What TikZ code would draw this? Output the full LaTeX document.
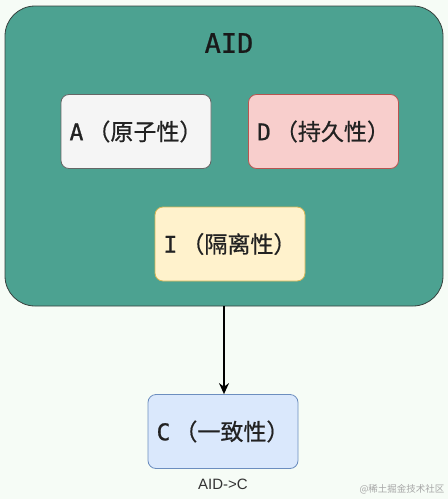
\documentclass[tikz,border=0pt]{standalone}
\usepackage{fontspec}
\usepackage{tikz}
\usetikzlibrary{arrows.meta, positioning}
\newfontfamily\cjkfont[FakeBold=0.7]{Noto Sans CJK SC}
\newfontfamily\plaincjk{Noto Sans CJK SC}
\newfontfamily\monofont[FakeBold=0.9]{DejaVu Sans Mono}
\newfontfamily\capfont{Liberation Sans}
\definecolor{bgmint}{RGB}{246,252,246}
\definecolor{aidteal}{RGB}{76,162,145}
\definecolor{aidline}{RGB}{55,65,62}
\definecolor{inkdark}{RGB}{34,34,34}
\definecolor{hdrgray}{RGB}{245,245,245}
\definecolor{linegray}{RGB}{102,102,102}
\definecolor{hdrred}{RGB}{248,206,204}
\definecolor{linered}{RGB}{184,84,80}
\definecolor{hdramber}{RGB}{255,242,204}
\definecolor{lineamber}{RGB}{214,182,86}
\definecolor{hdrblue}{RGB}{218,232,252}
\definecolor{lineblue}{RGB}{108,142,191}
\newcommand{\proplabel}[2]{{\monofont #1}\kern4pt{\cjkfont （#2）}}
\tikzset{
  container/.style={rectangle, draw=aidline, fill=aidteal,
    minimum width=438pt, minimum height=300pt,
    rounded corners=30pt, line width=0.8pt},
  propbox/.style={rectangle, minimum width=150pt, minimum height=74pt,
    inner sep=0pt, text=inkdark, font=\fontsize{23}{26}\selectfont,
    rounded corners=8pt, line width=0.8pt},
  arrow/.style={-{Stealth[length=11pt, width=10pt]}, line width=1.4pt, color=black}
}
\begin{document}
\begin{tikzpicture}[x=1pt, y=-1pt]
  % Background
  \fill[bgmint] (0,0) rectangle (448,499);
  \useasboundingbox (0,0) rectangle (448,499);

  % Container
  \node[container] (aid) at (224,156) {};
  \node[font=\monofont\fontsize{27}{30}\selectfont, text=black!90] (title) at (229,43) {AID};

  % Properties
  \node[propbox, draw=linegray, fill=hdrgray] (a) at (136,131.5) {\proplabel{A}{原子性}};
  \node[propbox, draw=linered, fill=hdrred] (d) at (323.5,131.5) {\proplabel{D}{持久性}};
  \node[propbox, draw=lineamber, fill=hdramber] (i) at (230,244) {\proplabel{I}{隔离性}};
  \node[propbox, draw=lineblue, fill=hdrblue] (c) at (223,431.5) {\proplabel{C}{一致性}};

  % AID -> C
  \draw[arrow] (aid.south) -- (aid.south |- c.north);
  \node[below=7pt of c, font=\capfont\fontsize{15}{17}\selectfont, text=black!80] (caption) {AID->C};

  % Watermark
  \node[font=\plaincjk\fontsize{9.5}{11}\selectfont, text=black!35] (mark) at (402,489) {@稀土掘金技术社区};
\end{tikzpicture}
\end{document}
